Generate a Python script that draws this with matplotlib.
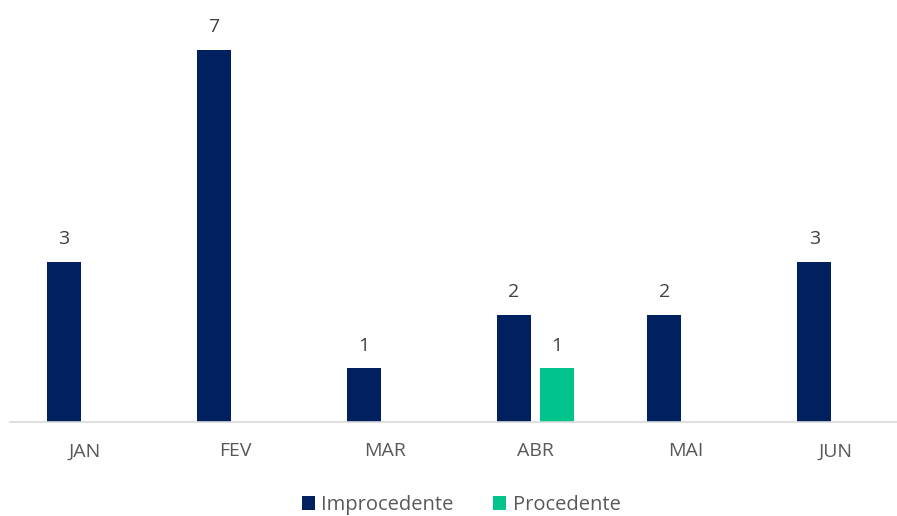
import matplotlib.pyplot as plt
import numpy as np

meses = ['JAN', 'FEV', 'MAR', 'ABR', 'MAI', 'JUN']
improcedente = [3, 7, 1, 2, 2, 3]
procedente = [0, 0, 0, 1, 0, 0]

plt.rcParams['font.family'] = ['Open Sans', 'DejaVu Sans']

fig = plt.figure(figsize=(8.97, 5.16), dpi=100)
ax = fig.add_axes([10 / 897, 1 - 421.5 / 516, 901 / 897, 421.5 / 516])

x = np.arange(len(meses))
w = 34 / 150.2
gap = 9 / 150.2
off = (w + gap) / 2

b1 = ax.bar(x - off, improcedente, w, color='#002060', label='Improcedente')
proc_vals = [v if v > 0 else np.nan for v in procedente]
b2 = ax.bar(x + off, proc_vals, w, color='#00C48C', label='Procedente')

for xi, v in zip(x - off, improcedente):
    if v:
        ax.annotate(str(v), (xi, v), xytext=(0, 10), textcoords='offset points',
                    ha='center', va='bottom', fontsize=14, color='#404040')
for xi, v in zip(x + off, procedente):
    if v:
        ax.annotate(str(v), (xi, v), xytext=(0, 10), textcoords='offset points',
                    ha='center', va='bottom', fontsize=14, color='#404040')

ax.set_xlim(-0.5, 5.5)
ax.set_ylim(0, 421.5 / 53.1)
ax.set_xticks(x)
ax.set_xticklabels(meses, fontsize=14, color='#595959')
ax.tick_params(axis='x', length=0, pad=15)
ax.set_yticks([])
for s in ['top', 'right', 'left']:
    ax.spines[s].set_visible(False)
ax.spines['bottom'].set_color('#D9D9D9')
ax.spines['bottom'].set_linewidth(1.2)

fig.legend(handles=[b1, b2], loc='center', bbox_to_anchor=(461 / 897, 1 - 505 / 516),
           ncol=2, frameon=False, fontsize=14.5, labelcolor='#595959',
           handlelength=0.65, handleheight=0.65, handletextpad=0.3, columnspacing=2.0)

fig.savefig('out.png', dpi=100)
